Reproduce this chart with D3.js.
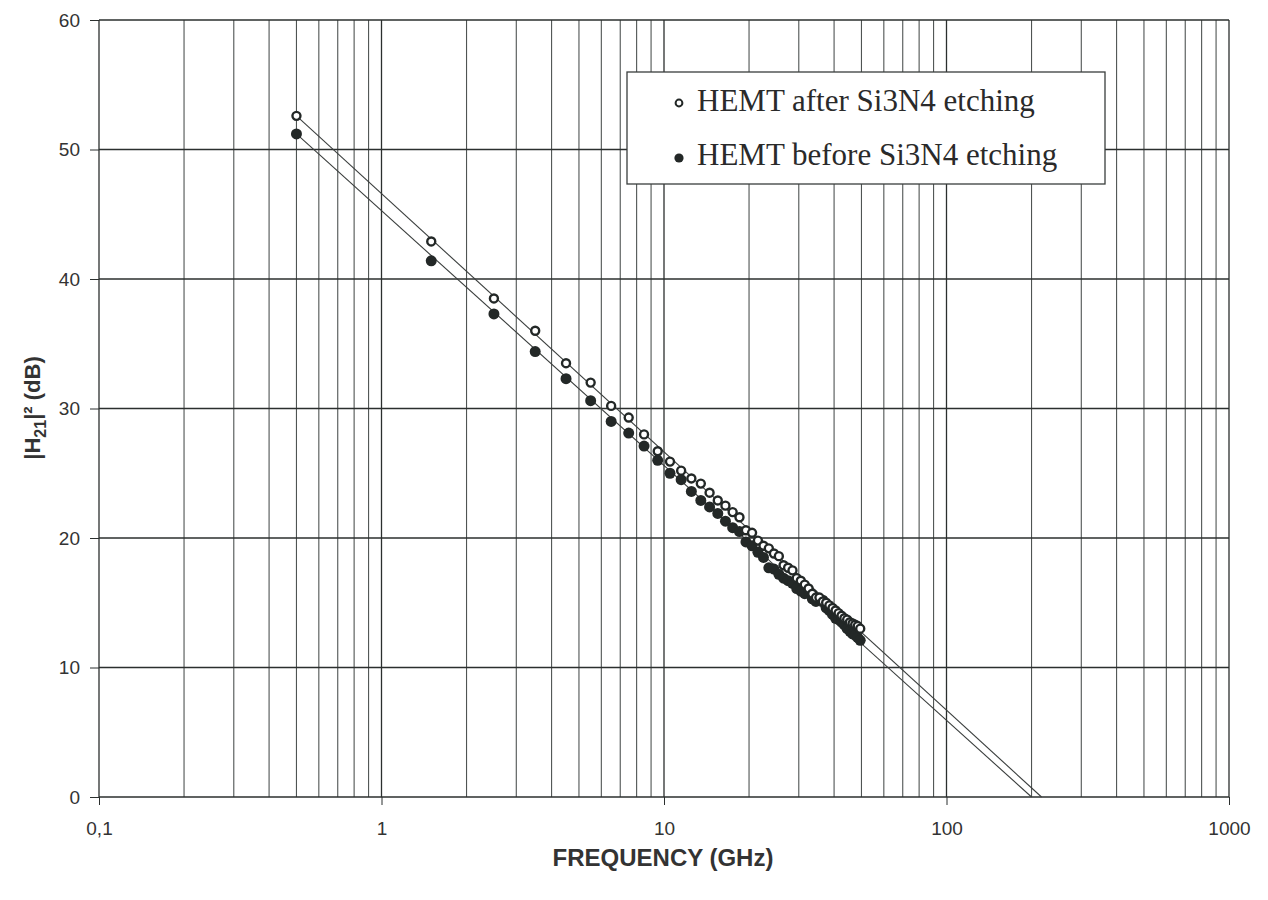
<!DOCTYPE html>
<html>
<head>
<meta charset="utf-8">
<script src="https://cdn.jsdelivr.net/npm/d3@7"></script>
<style>
  body { margin: 0; background: #fff; }
  svg { display: block; }
</style>
</head>
<body>
<div id="chart"></div>
<script>
(function(){

    // measured frequencies (GHz)
    var freqs = [0.5, 1.5, 2.5, 3.5, 4.5, 5.5, 6.5, 7.5, 8.5, 9.5,
                 10.5, 11.5, 12.5, 13.5, 14.5, 15.5, 16.5, 17.5, 18.5, 19.5,
                 20.5, 21.5, 22.5, 23.5, 24.5, 25.5, 26.5, 27.5, 28.5, 29.5,
                 30.5, 31.5, 32.5, 33.5, 34.5, 35.5, 36.5, 37.5, 38.5, 39.5,
                 40.5, 41.5, 42.5, 43.5, 44.5, 45.5, 46.5, 47.5, 48.5, 49.5];

    // |H21|^2 (dB) after Si3N4 etching (open circles)
    var afterEtch = [52.6, 42.9, 38.5, 36.0, 33.5, 32.0, 30.2, 29.3, 28.0, 26.7,
                     25.9, 25.2, 24.6, 24.2, 23.5, 22.9, 22.5, 22.0, 21.6, 20.6,
                     20.4, 19.8, 19.4, 19.2, 18.8, 18.6, 17.9, 17.7, 17.5, 16.9,
                     16.7, 16.4, 16.1, 15.7, 15.4, 15.4, 15.1, 15.0, 14.8, 14.6,
                     14.4, 14.2, 14.0, 13.8, 13.7, 13.5, 13.4, 13.3, 13.2, 13.0];

    // |H21|^2 (dB) before Si3N4 etching (filled circles)
    var beforeEtch = [51.2, 41.4, 37.3, 34.4, 32.3, 30.6, 29.0, 28.1, 27.1, 26.0,
                      25.0, 24.5, 23.6, 22.9, 22.4, 21.9, 21.3, 20.8, 20.5, 19.7,
                      19.4, 18.9, 18.5, 17.7, 17.6, 17.2, 16.9, 16.7, 16.5, 16.1,
                      15.9, 15.7, 15.9, 15.3, 15.1, 15.3, 15.2, 14.6, 14.4, 14.1,
                      13.8, 13.7, 13.5, 13.3, 13.0, 12.8, 12.6, 12.5, 12.3, 12.1];

    // -20 dB/decade fit lines [freq, dB]
    var fitAfter = [[0.5, 52.6], [217, 0]];
    var fitBefore = [[0.5, 51.2], [200, 0]];

    var xTicks = [0.1, 1, 10, 100, 1000];
    var xTickLabels = ["0,1", "1", "10", "100", "1000"];
    var yTicks = [0, 10, 20, 30, 40, 50, 60];

    var seriesNames = ["HEMT after Si3N4 etching", "HEMT before Si3N4 etching"];

    var width = 1268, height = 900;
    var left = 99, right = 1229, top = 20, bottom = 797;
    var ink = "#2b2f2e";

    var svg = d3.select("#chart").append("svg")
        .attr("width", width)
        .attr("height", height);

    var x = d3.scaleLog().domain([0.1, 1000]).range([left, right]);
    var y = d3.scaleLinear().domain([0, 60]).range([bottom, top]);

    // minor vertical grid (2..9 in each decade)
    var minor = x.ticks().filter(function(d) {
        return xTicks.indexOf(d) < 0;
    });
    svg.append("g").selectAll("line")
        .data(minor).enter().append("line")
        .attr("x1", function(d) { return x(d); })
        .attr("x2", function(d) { return x(d); })
        .attr("y1", top).attr("y2", bottom)
        .attr("stroke", "#4f5453").attr("stroke-width", 1.1);

    // major vertical grid
    svg.append("g").selectAll("line")
        .data(xTicks).enter().append("line")
        .attr("x1", function(d) { return x(d); })
        .attr("x2", function(d) { return x(d); })
        .attr("y1", top).attr("y2", bottom)
        .attr("stroke", ink).attr("stroke-width", 1.3);

    // horizontal grid
    svg.append("g").selectAll("line")
        .data(yTicks).enter().append("line")
        .attr("x1", left).attr("x2", right)
        .attr("y1", function(d) { return y(d); })
        .attr("y2", function(d) { return y(d); })
        .attr("stroke", ink).attr("stroke-width", 1.5);

    // y axis ticks + labels
    var yAxis = d3.axisLeft(y).tickValues(yTicks).tickSize(9).tickPadding(10)
        .tickFormat(d3.format("d"));
    var gy = svg.append("g").attr("transform", "translate(" + left + ",0)").call(yAxis);
    gy.select(".domain").remove();
    gy.selectAll("line").attr("stroke", ink);
    gy.selectAll("text")
        .attr("font-family", "Liberation Sans, Arial, sans-serif")
        .attr("font-size", 19).attr("fill", "#333");

    // x axis ticks + labels
    var xAxis = d3.axisBottom(x).tickValues(xTicks).tickSize(8).tickPadding(17)
        .tickFormat(function(d, i) { return xTickLabels[i]; });
    var gx = svg.append("g").attr("transform", "translate(0," + bottom + ")").call(xAxis);
    gx.select(".domain").remove();
    gx.selectAll("line").attr("stroke", ink);
    gx.selectAll("text")
        .attr("font-family", "Liberation Sans, Arial, sans-serif")
        .attr("font-size", 19).attr("fill", "#333");

    // fit lines
    var line = d3.line()
        .x(function(d) { return x(d[0]); })
        .y(function(d) { return y(d[1]); });
    [fitAfter, fitBefore].forEach(function(f) {
        svg.append("path")
            .attr("d", line(f))
            .attr("fill", "none")
            .attr("stroke", "#3a3e3d")
            .attr("stroke-width", 1.1);
    });

    // points
    svg.append("g").selectAll("circle")
        .data(freqs).enter().append("circle")
        .attr("cx", function(d) { return x(d); })
        .attr("cy", function(d, i) { return y(beforeEtch[i]); })
        .attr("r", 5.5)
        .attr("fill", "#232827");

    svg.append("g").selectAll("circle")
        .data(freqs).enter().append("circle")
        .attr("cx", function(d) { return x(d); })
        .attr("cy", function(d, i) { return y(afterEtch[i]); })
        .attr("r", 4)
        .attr("fill", "#fff")
        .attr("stroke", "#232827")
        .attr("stroke-width", 2.4);

    // legend
    var lg = svg.append("g").attr("transform", "translate(627,72)");
    lg.append("rect")
        .attr("width", 478).attr("height", 112)
        .attr("fill", "#fff")
        .attr("stroke", "#3a3e3d").attr("stroke-width", 1.3);
    lg.append("circle")
        .attr("cx", 52).attr("cy", 31).attr("r", 3.4)
        .attr("fill", "#fff").attr("stroke", "#232827").attr("stroke-width", 2);
    lg.append("circle")
        .attr("cx", 52).attr("cy", 86).attr("r", 4.6)
        .attr("fill", "#232827");
    lg.selectAll("text.lbl")
        .data(seriesNames).enter().append("text")
        .attr("class", "lbl")
        .attr("x", 70)
        .attr("y", function(d, i) { return 39 + i * 54; })
        .attr("font-family", "Liberation Serif, Times New Roman, serif")
        .attr("font-size", 31)
        .attr("fill", "#2a2a2a")
        .text(function(d) { return d; });

    // axis titles
    svg.append("text")
        .attr("x", 663).attr("y", 866)
        .attr("text-anchor", "middle")
        .attr("font-family", "Liberation Sans, Arial, sans-serif")
        .attr("font-weight", "bold")
        .attr("font-size", 24)
        .attr("fill", "#333")
        .text("FREQUENCY (GHz)");

    var yt = svg.append("text")
        .attr("transform", "translate(40,408) rotate(-90)")
        .attr("text-anchor", "middle")
        .attr("font-family", "Liberation Sans, Arial, sans-serif")
        .attr("font-weight", "bold")
        .attr("font-size", 22)
        .attr("fill", "#333");
    yt.append("tspan").text("|H");
    yt.append("tspan").attr("font-size", 16).attr("dy", 6).text("21");
    yt.append("tspan").attr("dy", -6).text("|² (dB)");

})();
</script>
</body>
</html>
